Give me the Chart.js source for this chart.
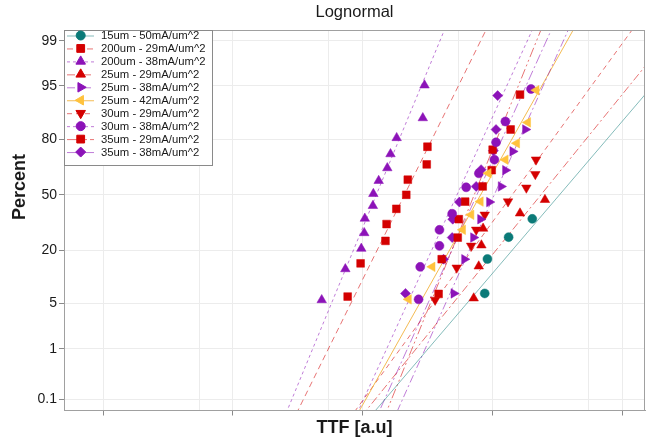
<!DOCTYPE html>
<html>
<head>
<meta charset="utf-8">
<script src="https://cdn.jsdelivr.net/npm/chart.js@4.4.1/dist/chart.umd.min.js"></script>
<style>
  html, body { margin: 0; padding: 0; background: #fff; }
  #wrap { width: 656px; height: 444px; }
</style>
</head>
<body>
<div id="wrap"><canvas id="chart" width="656" height="444"></canvas></div>
<script>
// ---- data (TTF in a.u., cumulative percent) ----
const seriesNames = [
  '15um - 50mA/um^2', '200um - 29mA/um^2', '200um - 38mA/um^2', '25um - 29mA/um^2',
  '25um - 38mA/um^2', '25um - 42mA/um^2', '30um - 29mA/um^2', '30um - 38mA/um^2',
  '35um - 29mA/um^2', '35um - 38mA/um^2'
];

const ttf15_50 = [873, 916, 1334, 2030];
const pct15_50 = [6.8, 16.6, 26.1, 35.8];

const ttf200_29 = [76.7, 96.5, 150, 153, 182, 217, 223, 312, 316];
const pct200_29 = [6.2, 15.0, 24.3, 32.9, 41.6, 50.0, 59.0, 67.7, 76.6];

const ttf200_38 = [48.4, 73.6, 97.7, 103, 104, 120, 121, 133, 155, 164, 183, 291, 300];
const pct200_38 = [5.6, 13.1, 20.8, 28.2, 36.0, 43.4, 50.6, 58.4, 65.7, 73.1, 80.5, 87.7, 95.1];

const ttf25_29 = [718, 785, 823, 848, 1633, 2541];
const pct25_29 = [5.9, 14.0, 22.3, 30.5, 39.0, 47.0];

const ttf25_38 = [504, 609, 714, 809, 948, 1166, 1259, 1433, 1795];
const pct25_38 = [6.8, 16.5, 25.9, 35.6, 45.6, 55.0, 64.5, 74.4, 83.8];

const ttf25_42 = [226, 344, 591, 686, 809, 931, 1259, 1543, 1875, 2178];
const pct25_42 = [5.7, 13.8, 29.8, 38.1, 45.9, 62.8, 70.2, 78.2, 86.3, 94.3];

const ttf30_29 = [362, 531, 686, 750, 873, 1320, 1827, 2142, 2168];
const pct30_29 = [5.6, 13.5, 22.0, 29.8, 38.1, 45.9, 54.2, 62.2, 70.2];

const ttf30_38 = [270, 278, 391, 391, 490, 628, 787, 1036, 1067, 1259, 1985];
const pct30_38 = [5.7, 13.8, 22.0, 29.8, 38.7, 54.5, 62.7, 70.2, 78.6, 86.6, 94.5];

const ttf35_29 = [385, 407, 541, 551, 617, 842, 988, 1005, 1383, 1633];
const pct35_29 = [6.7, 16.5, 25.9, 35.6, 45.9, 55.0, 64.5, 75.2, 83.8, 93.5];

const ttf35_38 = [214, 420, 490, 495, 557, 750, 819, 1018, 1067, 1098];
const pct35_38 = [6.8, 16.5, 25.9, 35.6, 45.6, 55.0, 64.8, 74.7, 83.8, 93.3];

// fitted lognormal lines: TTF at 0.01 % and at 99.9 %
const fitPct = [0.01, 99.9];
const fitTtf = [
  [79.3, 72800], [24.3, 1265], [21.0, 571], [68.8, 44800], [146, 5267],
  [69.9, 6233], [59.5, 19900], [72.7, 2799], [124, 3146], [106, 3904]
];

const yTickPercents = [0.1, 1, 5, 20, 50, 80, 95, 99];
const yTickLabels = ['0.1', '1', '5', '20', '50', '80', '95', '99'];
const xMajor = [1, 10, 100, 1000, 10000];
const xMinor = [5.5, 55, 550, 5500];

// ---- styles ----
const TEAL = '#0b7a78', RED = '#d40000', PURPLE = '#8c13b8', ORANGE = '#ffc23d';
const colors = [TEAL, RED, PURPLE, RED, PURPLE, ORANGE, RED, PURPLE, RED, PURPLE];
const lineColors = ['rgba(11,122,120,0.5)', 'rgba(212,0,0,0.55)', 'rgba(140,19,184,0.55)',
  'rgba(212,0,0,0.55)', 'rgba(140,19,184,0.55)', 'rgba(240,170,40,0.8)', 'rgba(212,0,0,0.55)',
  'rgba(140,19,184,0.55)', 'rgba(212,0,0,0.55)', 'rgba(140,19,184,0.55)'];
const shapes = ['circle', 'rect', 'triangle', 'triangle', 'triangle', 'triangle', 'triangle', 'circle', 'rect', 'rectRot'];
const rotations = [0, 0, 0, 0, 90, 270, 180, 0, 0, 0];
const radii = [4.5, 5.5, 5.5, 5.5, 5.5, 5.5, 5.5, 4.5, 5.5, 5];
const dashes = [[], [6, 4], [3, 3], [8, 3, 2, 3], [8, 3, 2, 3], [], [5, 4], [3, 3], [10, 3, 2, 3, 2, 3], [10, 3, 2, 3]];

const ttfs = [ttf15_50, ttf200_29, ttf200_38, ttf25_29, ttf25_38, ttf25_42, ttf30_29, ttf30_38, ttf35_29, ttf35_38];
const pcts = [pct15_50, pct200_29, pct200_38, pct25_29, pct25_38, pct25_42, pct30_29, pct30_38, pct35_29, pct35_38];

// inverse normal CDF (probit) for the probability axis
function probit(p) {
  const a = [-3.969683028665376e+01, 2.209460984245205e+02, -2.759285104469687e+02, 1.383577518672690e+02, -3.066479806614716e+01, 2.506628277459239e+00];
  const b = [-5.447609879822406e+01, 1.615858368580409e+02, -1.556989798598866e+02, 6.680131188771972e+01, -1.328068155288572e+01];
  const c = [-7.784894002430293e-03, -3.223964580411365e-01, -2.400758277161838e+00, -2.549732539343734e+00, 4.374664141464968e+00, 2.938163982698783e+00];
  const d = [7.784695709041462e-03, 3.224671290700398e-01, 2.445134137142996e+00, 3.754408661907416e+00];
  const pl = 0.02425;
  let q, r;
  if (p < pl) {
    q = Math.sqrt(-2 * Math.log(p));
    return (((((c[0]*q+c[1])*q+c[2])*q+c[3])*q+c[4])*q+c[5]) / ((((d[0]*q+d[1])*q+d[2])*q+d[3])*q+1);
  }
  if (p <= 1 - pl) {
    q = p - 0.5; r = q * q;
    return (((((a[0]*r+a[1])*r+a[2])*r+a[3])*r+a[4])*r+a[5])*q / (((((b[0]*r+b[1])*r+b[2])*r+b[3])*r+b[4])*r+1);
  }
  q = Math.sqrt(-2 * Math.log(1 - p));
  return -(((((c[0]*q+c[1])*q+c[2])*q+c[3])*q+c[4])*q+c[5]) / ((((d[0]*q+d[1])*q+d[2])*q+d[3])*q+1);
}

const datasets = [];
seriesNames.forEach((name, i) => {
  datasets.push({
    label: name,
    data: ttfs[i].map((t, k) => ({ x: t, y: probit(pcts[i][k] / 100) })),
    showLine: false,
    pointStyle: shapes[i],
    rotation: rotations[i],
    pointRadius: radii[i],
    backgroundColor: colors[i],
    borderColor: colors[i],
    borderWidth: 0.5,
    order: 0
  });
});
seriesNames.forEach((name, i) => {
  datasets.push({
    label: name + ' fit',
    data: fitTtf[i].map((t, k) => ({ x: t, y: probit(fitPct[k] / 100) })),
    showLine: true,
    pointRadius: 0,
    borderColor: lineColors[i],
    borderWidth: 1,
    borderDash: dashes[i],
    order: 1
  });
});

const FONT = '"Liberation Sans", Arial, sans-serif';

const extras = {
  id: 'extras',
  afterDraw(chart) {
    const ctx = chart.ctx, ca = chart.chartArea;
    ctx.save();
    // frame
    ctx.strokeStyle = '#a0a0a0';
    ctx.lineWidth = 1;
    ctx.strokeRect(Math.round(ca.left) + 0.5, Math.round(ca.top) + 0.5, Math.round(ca.right - ca.left) - 1, Math.round(ca.bottom - ca.top) - 1);
    // titles
    ctx.fillStyle = '#1a1a1a';
    ctx.textAlign = 'center';
    ctx.textBaseline = 'middle';
    ctx.font = '16.5px ' + FONT;
    ctx.fillText('Lognormal', (ca.left + ca.right) / 2, 12);
    ctx.font = 'bold 18px ' + FONT;
    ctx.fillText('TTF [a.u]', (ca.left + ca.right) / 2, 428);
    ctx.save();
    ctx.translate(20, 187);
    ctx.rotate(-Math.PI / 2);
    ctx.fillText('Percent', 0, 0);
    ctx.restore();
    // legend
    const lx = 64, ly = 30, lw = 148, lh = 135;
    ctx.fillStyle = '#fff';
    ctx.fillRect(lx, ly, lw, lh);
    ctx.strokeStyle = '#8a8a8a';
    ctx.strokeRect(lx + 0.5, ly + 0.5, lw, lh);
    ctx.font = '11.3px ' + FONT;
    ctx.textAlign = 'left';
    seriesNames.forEach((name, i) => {
      const y = 35.5 + i * 12.95;
      ctx.strokeStyle = lineColors[i];
      ctx.lineWidth = 1;
      ctx.setLineDash(dashes[i]);
      ctx.beginPath();
      ctx.moveTo(67, y + 0.5);
      ctx.lineTo(94, y + 0.5);
      ctx.stroke();
      ctx.setLineDash([]);
      ctx.fillStyle = colors[i];
      ctx.strokeStyle = colors[i];
      Chart.helpers.drawPoint(ctx, { pointStyle: shapes[i], rotation: rotations[i], radius: radii[i], borderWidth: 0.5 }, 80.7, y);
      ctx.fillStyle = '#1a1a1a';
      ctx.fillText(name, 101, y + 0.5);
    });
    ctx.restore();
  }
};

new Chart(document.getElementById('chart'), {
  type: 'scatter',
  data: { datasets },
  plugins: [extras],
  options: {
    responsive: false,
    animation: false,
    layout: { padding: { top: 30, right: 11, left: 0, bottom: 0 } },
    plugins: { legend: { display: false }, tooltip: { enabled: false }, title: { display: false } },
    scales: {
      x: {
        type: 'logarithmic',
        min: 0.5,
        max: 15000,
        afterBuildTicks(axis) {
          axis.ticks = xMajor.concat(xMinor).sort((a, b) => a - b).map(v => ({ value: v }));
        },
        afterFit(scale) { scale.height = 33.5; },
        ticks: { callback: () => '', autoSkip: false, maxRotation: 0 },
        grid: {
          color: '#ececec',
          tickLength: 5,
          tickColor: (c) => (c.tick && xMajor.includes(c.tick.value)) ? '#8a8a8a' : 'rgba(0,0,0,0)'
        },
        border: { color: '#a0a0a0' }
      },
      y: {
        type: 'linear',
        min: -3.26,
        max: 2.49,
        afterBuildTicks(axis) {
          axis.ticks = yTickPercents.map(p => ({ value: probit(p / 100) }));
        },
        afterFit(scale) { scale.width = 64; },
        ticks: {
          autoSkip: false,
          padding: 2,
          color: '#1a1a1a',
          font: { family: FONT, size: 14 },
          callback: (v, i) => yTickLabels[i]
        },
        grid: { color: '#ececec', tickLength: 5, tickColor: '#8a8a8a' },
        border: { color: '#a0a0a0' }
      }
    }
  }
});
</script>
</body>
</html>
